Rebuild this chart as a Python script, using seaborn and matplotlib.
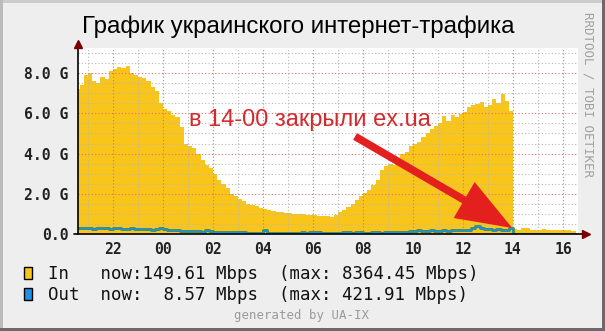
import numpy as np
import pandas as pd
import matplotlib
matplotlib.use("Agg")
import matplotlib.pyplot as plt
import matplotlib.dates as mdates
import seaborn as sns
from matplotlib.patches import Rectangle, FancyArrowPatch
from matplotlib.lines import Line2D
from matplotlib.ticker import MultipleLocator

sns.set_theme(style="white")
plt.rcParams["font.family"] = ["Liberation Sans", "DejaVu Sans"]

# ---------------- data (Gbps, 10-minute samples) ----------------
start_time = "2016-11-28 20:30"
sample_step = "10min"

in_gbps = [
    7.2, 7.4, 7.9,
    8.0, 7.6, 7.5, 7.8, 7.7, 8.1,
    8.2, 8.3, 8.25, 8.36, 8.0, 7.9,
    7.8, 7.75, 7.6, 7.3, 7.1, 6.5,
    6.2, 6.1, 5.9, 5.8, 5.3, 4.5,
    4.4, 4.3, 4.0, 3.7, 3.45, 3.3,
    3.0, 2.7, 2.5, 2.3, 2.0, 1.9,
    1.75, 1.65, 1.5, 1.45, 1.4, 1.3,
    1.25, 1.2, 1.15, 1.1, 1.1, 1.05,
    1.05, 1.0, 0.98, 1.0, 0.95, 0.95,
    0.93, 0.9, 0.88, 0.9, 0.87, 0.95,
    1.1, 1.2, 1.35, 1.5, 1.7, 1.9,
    2.05, 2.2, 2.45, 2.7, 3.2, 3.4,
    3.5, 3.45, 3.8, 4.0, 4.1, 4.4,
    4.5, 4.6, 4.8, 5.0, 5.2, 5.35,
    5.5, 5.85, 5.6, 5.9, 5.8, 5.95,
    6.05, 6.3, 6.4, 6.45, 6.55, 6.3,
    6.4, 6.7, 6.5, 6.95, 6.6, 6.1,
    0.25, 0.22, 0.3, 0.28, 0.22, 0.2,
    0.22, 0.25, 0.2, 0.22, 0.2, 0.18,
    0.2, 0.18, 0.17, 0.15,
]

out_gbps = [
    0.32, 0.3, 0.28,
    0.3, 0.27, 0.32, 0.28, 0.3, 0.26,
    0.28, 0.3, 0.25, 0.27, 0.3, 0.26,
    0.25, 0.27, 0.24, 0.22, 0.25, 0.3,
    0.25, 0.2, 0.18, 0.2, 0.17, 0.15,
    0.16, 0.14, 0.15, 0.12, 0.18, 0.13,
    0.1, 0.12, 0.09, 0.11, 0.08, 0.09,
    0.08, 0.1, 0.07, 0.06, 0.07, 0.05,
    0.22, 0.05, 0.04, 0.06, 0.04, 0.05,
    0.04, 0.05, 0.06, 0.08, 0.05, 0.1,
    0.12, 0.08, 0.06, 0.05, 0.07, 0.06,
    0.05, 0.1, 0.08, 0.06, 0.1, 0.08,
    0.07, 0.06, 0.1, 0.08, 0.07, 0.1,
    0.08, 0.12, 0.1, 0.09, 0.12, 0.14,
    0.15, 0.2, 0.16, 0.15, 0.18, 0.17,
    0.16, 0.18, 0.17, 0.2, 0.19, 0.2,
    0.22, 0.2, 0.3, 0.42, 0.3, 0.25,
    0.24, 0.22, 0.25, 0.2, 0.22, 0.3,
    0.01, 0.01, 0.01, 0.01, 0.01, 0.01,
    0.01, 0.01, 0.01, 0.01, 0.01, 0.01,
    0.01, 0.01, 0.01, 0.01,
]

view_start = "2016-11-28 20:36"
view_end = "2016-11-29 16:36"
y_ticks = [0, 2, 4, 6, 8]
y_tick_labels = ["0.0", "2.0 G", "4.0 G", "6.0 G", "8.0 G"]

title_text = "График украинского интернет-трафика"
note_text = "в 14-00 закрыли ex.ua"
note_pos = ("2016-11-29 05:53", 5.65)
arrow_tail = ("2016-11-29 07:41", 4.85)
arrow_tip = ("2016-11-29 13:58", 0.3)

legend_names = ["In", "Out"]
legend_now = ["now:149.61 Mbps", "now:  8.57 Mbps"]
legend_max = ["(max: 8364.45 Mbps)", "(max: 421.91 Mbps)"]

IN_COLOR = "#F9C51A"
OUT_COLOR = "#1E90E6"
OUT_EDGE = "#2E8B6A"
BG = "#EEEEEE"
MONO = "DejaVu Sans Mono"

# ---------------- figure ----------------
W, H = 605, 331
fig = plt.figure(figsize=(W / 100, H / 100), dpi=100, facecolor=BG)
ax = fig.add_axes([78 / W, 1 - 234 / H, 500 / W, 186 / H])
ax.set_facecolor("white")

times = pd.date_range(start_time, periods=len(in_gbps), freq=sample_step)
df = pd.DataFrame({"time": times, "in": in_gbps, "out": out_gbps})

ax.fill_between(df["time"], df["in"], step="post", color=IN_COLOR, lw=0, zorder=1)
sns.lineplot(data=df, x="time", y="out", drawstyle="steps-post", color=OUT_EDGE,
             lw=2.0, ax=ax, zorder=3)
sns.lineplot(data=df, x="time", y="out", drawstyle="steps-post", color=OUT_COLOR,
             lw=0.9, ax=ax, zorder=4)

ax.set_xlim(pd.Timestamp(view_start), pd.Timestamp(view_end))
ax.set_ylim(0, 9.25)
ax.set_xlabel("")
ax.set_ylabel("")

ax.xaxis.set_major_locator(mdates.HourLocator(byhour=range(0, 24, 2)))
ax.xaxis.set_minor_locator(mdates.HourLocator())
ax.xaxis.set_major_formatter(mdates.DateFormatter("%H"))
ax.set_yticks(y_ticks, y_tick_labels)
ax.yaxis.set_minor_locator(MultipleLocator(0.5))

ax.set_axisbelow(False)
ax.grid(which="minor", color="#B8B8B8", linestyle=(0, (1, 2)), lw=0.8)
ax.grid(which="major", color="#E07070", linestyle=(0, (1, 2)), lw=0.8)

for lab in ax.get_xticklabels() + ax.get_yticklabels():
    lab.set_fontfamily(MONO)
    lab.set_fontweight("bold")
    lab.set_fontsize(10.6)
    lab.set_color("#222222")
ax.tick_params(axis="x", which="both", length=0, pad=5.5)
ax.tick_params(axis="y", which="both", length=0, pad=7)

for s in ax.spines.values():
    s.set_visible(False)

# axis lines with arrow heads
ax.plot([-0.008, 1.012], [0, 0], transform=ax.transAxes, color="black", lw=1.2,
        clip_on=False, zorder=5)
ax.plot([0, 0], [0, 1.0], transform=ax.transAxes, color="black", lw=1.2,
        clip_on=False, zorder=5)
ax.plot([1.016], [0], marker=">", markersize=6, color="#7A0000", transform=ax.transAxes,
        clip_on=False, zorder=6)
ax.plot([0], [1.02], marker="^", markersize=6, color="#7A0000", transform=ax.transAxes,
        clip_on=False, zorder=6)

# annotation
ax.text(pd.Timestamp(note_pos[0]), note_pos[1], note_text, color="#D42A2E",
        fontsize=17, ha="center", va="center", zorder=7)
arrow = FancyArrowPatch((mdates.date2num(pd.Timestamp(arrow_tail[0])), arrow_tail[1]),
                        (mdates.date2num(pd.Timestamp(arrow_tip[0])), arrow_tip[1]),
                        arrowstyle="simple,head_length=4.0,head_width=3.0,tail_width=0.55",
                        mutation_scale=10, color="#E3201E", lw=0, shrinkA=0, shrinkB=0,
                        zorder=7)
ax.add_patch(arrow)

# title and side texts
fig.text(298 / W, 1 - 33 / H, title_text, ha="center", va="baseline",
         fontsize=17.3, color="black")
fig.text(588 / W, 1 - 95 / H, "RRDTOOL / TOBI OETIKER", rotation=270, ha="center",
         va="center", family=MONO, fontsize=8.9, color="#A0A0A0")
fig.text(301 / W, 1 - 319 / H, "generated by UA-IX", ha="center", va="baseline",
         family=MONO, fontsize=8.9, color="#9A9A9A")

# legend
legend_colors = [IN_COLOR, OUT_COLOR]
baselines = [279, 300]
for name, now, mx, col, b in zip(legend_names, legend_now, legend_max, legend_colors, baselines):
    fig.patches.append(Rectangle((24 / W, 1 - b / H), 8 / W, 12 / H, transform=fig.transFigure,
                                 facecolor=col, edgecolor="black", lw=1.0, figure=fig))
    fig.text(48 / W, 1 - b / H, f"{name:<5}{now}  {mx}", ha="left", va="baseline",
             family=MONO, fontsize=12.5, color="#111111")

# 3D frame
fig.add_artist(Line2D([0, 1], [1, 1], transform=fig.transFigure, color="#CCCCCC", lw=4.3))
fig.add_artist(Line2D([0, 0], [0, 1], transform=fig.transFigure, color="#BBBBBB", lw=4.3))
fig.add_artist(Line2D([0, 1], [0, 0], transform=fig.transFigure, color="#6A6A6A", lw=4.3))
fig.add_artist(Line2D([1, 1], [0, 1], transform=fig.transFigure, color="#6A6A6A", lw=4.3))

fig.savefig("out.png", dpi=100, facecolor=BG)
